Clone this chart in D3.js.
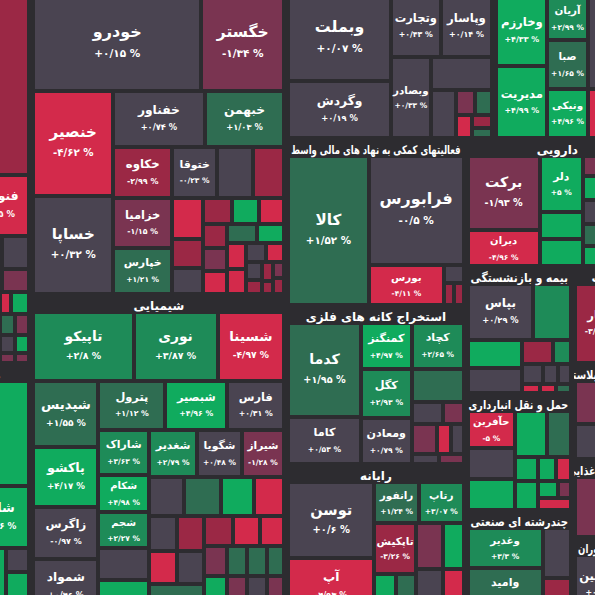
<!DOCTYPE html>
<html>
<head>
<meta charset="utf-8">
<script src="https://cdn.jsdelivr.net/npm/d3@7"></script>
<style>
html, body { margin: 0; padding: 0; background: #2d2c30; overflow: hidden; }
svg { display: block; }
text { font-family: "DejaVu Sans", sans-serif; font-weight: bold; fill: #fff; }
</style>
</head>
<body>
<svg id="chart" width="595" height="595"></svg>
<script>
var width = 595;
var height = 595;
// the map is larger than the window: only a crop of it is visible
var mapW = 746, mapH = 634, offX = -98, offY = -20;

// ---- sector data: tickers, change %, size; tiles = how cells are grouped (h = side by side, v = stacked)
var a1Name = "فلزات اساسی";
var a1Tickers = ["", "", "فنوال", "", "", "", "", "", "", "", "", "", "", "", ""];
var a1Change = [-2.6, 0.3, -4.5, 1.3, 0.2, -1.5, 0.4, -4.2, 4.3, 1.4, -1.6, 0.1, 4.1, -1.3, -1.8];
var a1Cap = [2230, 420, 348, 540, 90, 62, 679, 24, 40, 32, 29, 27, 27, 14, 14];
var a1Tiles = ["v", 0, ["h", 1, 2], ["h", 3, ["v", 4, 5]], ["h", 6, ["v", ["h", 7, 8], ["h", 9, 10], ["h", 11, 12], ["h", 13, 14]]]];

var a2Name = "ماشین آلات";
var a2Tickers = ["", "", "شاملا", "", "", ""];
var a2Change = [4.4, 1.7, 4.86, 4.5, 0.2, 4.3];
var a2Cap = [1345, 391, 409, 686, 58, 101];
var a2Tiles = ["v", 0, ["h", 1, 2], ["h", 3, ["v", 4, 5]]];

var autoName = "خودرو و ساخت قطعات";
var autoTickers = ["خودرو", "خگستر", "خنصیر", "خساپا", "خفناور", "خبهمن", "خکاوه", "خزامیا", "خپارس", "ختوقا",
  "", "", "", "", "", "", "", "", "", "", "", "", "", "", "", "", "", "", "", "", "", "", ""];
var autoChange = [0.15, -1.34, -4.62, 0.32, 0.74, 1.03, -2.99, -1.15, 1.21, -0.23,
  -0.4, -2.5, -4.3, -2.7, 0.2, -2.4, 4.5, -4.4, -2.2, -1.5, -4.6, 1.4, 4.2, -4.1, -4.8, -0.5, -4.3, 0.1, -2.3, -2.6, -2.1, -1.7, -2.5];
var autoCap = [1560, 771, 822, 766, 507, 439, 301, 289, 266, 224,
  179, 158, 123, 87, 78, 73, 68, 65, 58, 55, 55, 56, 52, 47, 45, 36, 34, 29, 22, 20, 13, 19, 17];
var autoTiles = ["v", ["h", 0, 1], ["h", ["v", 2, 3], ["v", ["h", 4, 5], ["h", ["v", 6, 7, 8], ["v", ["h", 9, 10, 11],
  ["h", ["v", 12, 13, 14], ["v", ["h", 15, 16, 17], ["h", ["v", 18, 19, 20], ["v", ["h", 21, 22],
  ["h", ["v", 23, 24], ["v", ["h", 25, 26], ["h", ["v", 27, 28], ["v", 29, 30], ["v", 31, 32]]]]]]]]]]]]];

var chemName = "شیمیایی";
var chemTickers = ["تاپیکو", "نوری", "شسینا", "شپدیس", "پاکشو", "زاگرس", "شمواد", "پترول", "شبصیر", "فارس",
  "شاراک", "شکام", "شجم", "پارس", "", "شغدیر", "شگویا", "شیراز", "شرنگی",
  "", "", "", "", "", "", "", "", "", "", "", "", "", "", "", "", "", "", ""];
var chemChange = [2.8, 3.87, -4.97, 1.55, 4.17, -0.97, 0.46, 1.12, 4.96, 0.31,
  3.63, 4.98, 2.27, 0.87, 4.3, 2.79, 0.48, -1.28, -0.35,
  1.6, 4.4, -4.5, -0.3, -2.6, -4.7, 0.2, 1.3, -2.4, -4.4, -4.2, -1.6, 1.5, 1.2, 1.7, 4.1, -1.4, 0.4, -1.9];
var chemCap = [683, 573, 455, 422, 384, 328, 353, 322, 298, 274,
  221, 186, 176, 162, 167, 221, 203, 194, 137,
  144, 129, 118, 96, 93, 88, 85, 163, 84, 78, 70, 70, 59, 59, 51, 88, 75, 75, 65];
var chemTiles = ["v", ["h", 0, 1, 2], ["h", ["v", 3, 4, 5, 6], ["v", ["h", 7, 8, 9], ["h", ["v", 10, 11, 12, 13, 14],
  ["v", ["h", 15, 16, 17], ["h", 18, 19, 20, 21], ["h", ["v", ["h", 22, 23], ["h", 24, 25], 26],
  ["v", ["h", 27, 28, 29], ["h", 30, 31, 32, 33], ["h", 34, 35, 36, 37]]]]]]]];

var bankName = "بانکها و موسسات اعتباری";
var bankTickers = ["وبملت", "وگردش", "وتجارت", "وپاسار", "وبصادر", "", "", "", "", "", "", ""];
var bankChange = [0.07, 0.19, 0.43, 0.14, 0.33, 0.2, -0.1, -1.5, 1.3, -4.2, -2.4, 1.1];
var bankCap = [920, 612, 318, 330, 340, 211, 127, 50, 45, 41, 29, 21];
var bankTiles = ["h", ["v", 0, 1], ["v", ["h", 2, 3], ["h", 4, ["v", 5, ["h", 6, ["v", ["h", 7, 8], ["h", 9, ["v", 10, 11]]]]]]]];

var investName = "سرمایه گذاریها";
var investTickers = ["وخارزم", "مدیریت", "آریان", "صبا", "ونیکی", "", ""];
var investChange = [4.33, 4.99, 2.99, 1.65, 4.96, 0.3, -4.5];
var investCap = [378, 389, 189, 206, 211, 580, 310];
var investTiles = ["h", ["v", 0, 1], ["v", 2, 3, 4], ["v", 5, 6]];

var auxName = "فعالیتهای کمکی به نهاد های مالی واسط";
var auxTickers = ["کالا", "فرابورس", "بورس", "", "", ""];
var auxChange = [1.52, -0.5, -4.11, 0.1, -2.4, -2.8];
var auxCap = [1250, 1075, 318, 38, 22, 22];
var auxTiles = ["h", 0, ["v", 1, ["h", 2, ["v", 3, ["h", 4, 5]]]]];

var mineName = "استخراج کانه های فلزی";
var mineTickers = ["کدما", "کاما", "کمنگنز", "کگل", "ومعادن", "کچاد", "", "", "", "", "", "", "", ""];
var mineChange = [1.95, 0.53, 4.97, 2.93, 0.79, 2.65, 1.4, 0.2, -1.6, -1.3, -4.4, -0.2, 0.3, -1.5];
var mineCap = [720, 360, 250, 260, 250, 250, 180, 75, 48, 78, 43, 38, 31, 28];
var mineTiles = ["h", ["v", 0, 1], ["v", 2, 3, 4], ["v", 5, 6, ["h", 7, 8], ["h", 9, 10, 11], ["h", 12, 13]]];

var itName = "رایانه";
var itTickers = ["توسن", "آپ", "رانفور", "رتاپ", "تاپکیش", "", "", "", "", "", ""];
var itChange = [0.6, -4.93, 1.24, 3.07, -3.26, 4.3, 1.5, -1.7, 0.2, 4.2, -4.6];
var itCap = [694, 507, 194, 194, 224, 92, 84, 128, 128, 101, 101];
var itTiles = ["h", ["v", 0, 1], ["v", ["h", 2, 3], ["h", ["v", 4, ["h", 5, 6]], ["v", 7, 8], ["v", 9, 10]]]];

var pharmaName = "دارویی";
var pharmaTickers = ["برکت", "دیران", "دلر", "", "", "", "", "", "", ""];
var pharmaChange = [-1.93, -4.96, 5, 4.4, 4.6, -1.4, 4.2, 0.3, 1.5, 4.1];
var pharmaCap = [575, 285, 262, 126, 126, 135, 172, 165, 150, 143];
var pharmaTiles = ["h", ["v", 0, 1], ["v", 2, 3, 4], ["v", 5, 6, 7, 8, 9]];

var insName = "بیمه و بازنشستگی";
var insTickers = ["بپاس", "", "", "", "", "", "", "", "", "", "", ""];
var insChange = [0.29, 3.4, 4.4, 0.1, -2.8, 2.5, 0.2, -0.3, 0.1, -4.4, -4.1, 1.2];
var insCap = [405, 232, 170, 152, 80, 49, 45, 35, 28, 19, 16, 16];
var insTiles = ["v", ["h", 0, 1], ["h", ["v", 2, 3], ["v", ["h", 4, 5], ["h", 6, 7, 8], ["h", 9, 10, 11]]]];

var transName = "حمل و نقل انبارداری و ارتباطات";
var transTickers = ["حآفرین", "", "", "", "", "", "", "", "", "", "", ""];
var transChange = [-5, 0.2, 4.4, 4.6, 1.6, 4.1, 4.3, 4.5, -4.2, 4.2, -1.8, -4.3];
var transCap = [192, 165, 165, 162, 122, 62, 73, 49, 41, 38, 25, 45];
var transTiles = ["h", ["v", 0, 1, 2], ["v", ["h", 3, 4], ["h", ["v", 5, 6], ["v", ["h", 7, 8], ["h", 9, 10], 11]]]];

var multiName = "چندرشته ای صنعتی";
var multiTickers = ["وغدیر", "وامید", "", ""];
var multiChange = [3.3, 1.4, -0.2, -2.6];
var multiCap = [345, 397, 163, 118];
var multiTiles = ["h", ["v", 0, 1], ["v", 2, 3]];

var e1Name = "زراعت";
var e1Tickers = ["کچار", "", ""];
var e1Change = [-3.81, 0.3, 1.2];
var e1Cap = [470, 100, 100];
var e1Tiles = ["h", 0, ["v", 1, 2]];

var e2Name = "لاستیک و پلاستیک";
var e2Tickers = ["", ""];
var e2Change = [-1.6, 0.4];
var e2Cap = [366, 298];
var e2Tiles = ["v", 0, 1];

var e3Name = "محصولات غذایی و آشامیدنی به جز قند و شکر";
var e3Tickers = ["واحیا", ""];
var e3Change = [-1.81, 0.5];
var e3Cap = [285, 258];
var e3Tiles = ["h", 0, 1];

var e4Name = "هتل و رستوران";
var e4Tickers = ["کاسپین", ""];
var e4Change = [0.4, -1.2];
var e4Cap = [374, 158];
var e4Tiles = ["h", 0, 1];

var sectors = {
  A1: {name: a1Name, t: a1Tickers, c: a1Change, v: a1Cap, tiles: a1Tiles},
  A2: {name: a2Name, t: a2Tickers, c: a2Change, v: a2Cap, tiles: a2Tiles},
  auto: {name: autoName, t: autoTickers, c: autoChange, v: autoCap, tiles: autoTiles},
  chem: {name: chemName, t: chemTickers, c: chemChange, v: chemCap, tiles: chemTiles},
  bank: {name: bankName, t: bankTickers, c: bankChange, v: bankCap, tiles: bankTiles},
  invest: {name: investName, t: investTickers, c: investChange, v: investCap, tiles: investTiles},
  aux: {name: auxName, t: auxTickers, c: auxChange, v: auxCap, tiles: auxTiles},
  mine: {name: mineName, t: mineTickers, c: mineChange, v: mineCap, tiles: mineTiles},
  it: {name: itName, t: itTickers, c: itChange, v: itCap, tiles: itTiles},
  pharma: {name: pharmaName, t: pharmaTickers, c: pharmaChange, v: pharmaCap, tiles: pharmaTiles},
  ins: {name: insName, t: insTickers, c: insChange, v: insCap, tiles: insTiles},
  trans: {name: transName, t: transTickers, c: transChange, v: transCap, tiles: transTiles},
  multi: {name: multiName, t: multiTickers, c: multiChange, v: multiCap, tiles: multiTiles},
  E1: {name: e1Name, t: e1Tickers, c: e1Change, v: e1Cap, tiles: e1Tiles},
  E2: {name: e2Name, t: e2Tickers, c: e2Change, v: e2Cap, tiles: e2Tiles},
  E3: {name: e3Name, t: e3Tickers, c: e3Change, v: e3Cap, tiles: e3Tiles},
  E4: {name: e4Name, t: e4Tickers, c: e4Change, v: e4Cap, tiles: e4Tiles}
};

// how the sectors sit in the market map
var blocks = ["h", ["v", "A1", "A2"], ["v", "auto", "chem"],
  ["v", ["h", "bank", "invest"],
        ["h", ["v", "aux", "mine", "it"],
              ["v", "pharma", ["h", ["v", "ins", "trans", "multi"], ["v", "E1", "E2", "E3", "E4"]]]]]];

function build(spec, sec) {
  if (typeof spec === "number") return {ticker: sec.t[spec], change: sec.c[spec], cap: sec.v[spec]};
  if (typeof spec === "string") {
    var s = sectors[spec];
    return {name: s.name, sector: true, inSector: true, dir: s.tiles[0], children: s.tiles.slice(1).map(d => build(d, s))};
  }
  return {dir: spec[0], inSector: !!sec, children: spec.slice(1).map(d => build(d, sec))};
}

var root = d3.hierarchy(build(blocks, null)).sum(d => d.cap || 0);

var color = d3.scaleThreshold()
  .domain([-4, -2, -1, 1, 2, 4])
  .range(["#d32a4b", "#9b2845", "#7a3451", "#4a4451", "#2f6d52", "#1e8b58", "#10ab5e"]);

d3.treemap()
  .size([mapW, mapH])
  .tile((node, x0, y0, x1, y1) => (node.data.dir === "h" ? d3.treemapDice : d3.treemapSlice)(node, x0, y0, x1, y1))
  .paddingInner(d => d.data.inSector ? 4 : 2)
  .paddingTop(d => d.data.sector ? 18 : 0)
  .paddingLeft(d => d.data.sector ? 3 : 0)
  .paddingRight(d => d.data.sector ? 3 : 0)
  .paddingBottom(d => d.data.sector ? 2 : 0)(root);

var faDigits = "۰۱۲۳۴۵۶۷۸۹";
function pct(v) {
  var s = String(+Math.abs(v).toFixed(2)).replace(".", "/").replace(/\d/g, c => faDigits[c]);
  return (v > 0 ? "+" : v < 0 ? "-" : "") + s + " %";
}

var svg = d3.select("#chart").attr("width", width).attr("height", height);
svg.append("rect").attr("width", width).attr("height", height).attr("fill", "#2d2c30");
var g = svg.append("g").attr("transform", `translate(${offX},${offY})`);

var cell = g.selectAll("g.cell")
  .data(root.leaves())
  .join("g")
  .attr("class", "cell")
  .attr("transform", d => `translate(${d.x0},${d.y0})`);

cell.append("rect")
  .attr("width", d => Math.max(0, d.x1 - d.x0))
  .attr("height", d => Math.max(0, d.y1 - d.y0))
  .attr("fill", d => color(d.data.change))
  .attr("shape-rendering", "crispEdges");

cell.filter(d => d.data.ticker && d.x1 - d.x0 >= 34 && d.y1 - d.y0 >= 30)
  .each(function(d) {
    var w = d.x1 - d.x0, h = d.y1 - d.y0;
    var ns = Math.max(10, Math.min(16, 6 + Math.min(w, h) * 0.12));
    var ps = Math.max(7.5, Math.min(10.5, ns * 0.68));
    var el = d3.select(this);
    el.append("text")
      .attr("x", w / 2)
      .attr("y", h / 2 - ns * 0.4)
      .attr("text-anchor", "middle")
      .attr("font-size", ns)
      .text(d.data.ticker);
    el.append("text")
      .attr("x", w / 2)
      .attr("y", h / 2 + ps + (h < 45 ? 4 : 3))
      .attr("text-anchor", "middle")
      .attr("direction", "ltr")
      .attr("font-size", ps)
      .attr("fill", "#eee")
      .text(pct(d.data.change));
  });

// sector titles, centred; a long title is squeezed, a much longer one starts at the right edge and is cut
var secs = root.descendants().filter(d => d.data.sector);
var defs = svg.append("defs");
secs.forEach((s, i) => {
  var avail = s.x1 - s.x0 - 8;
  defs.append("clipPath").attr("id", "clip" + i)
    .append("rect").attr("x", s.x0).attr("y", s.y0).attr("width", s.x1 - s.x0).attr("height", 18);
  var t = g.append("text")
    .attr("clip-path", `url(#clip${i})`)
    .attr("x", (s.x0 + s.x1) / 2)
    .attr("y", s.y0 + 14)
    .attr("text-anchor", "middle")
    .attr("font-size", 12)
    .text(s.data.name);
  var len = t.node().getComputedTextLength();
  if (len > avail && len <= avail * 1.5) {
    t.attr("textLength", avail).attr("lengthAdjust", "spacingAndGlyphs");
  } else if (len > avail) {
    t.attr("x", s.x1 - 4).attr("text-anchor", "end")
      .attr("textLength", len / 1.25).attr("lengthAdjust", "spacingAndGlyphs");
  }
});
</script>
</body>
</html>
